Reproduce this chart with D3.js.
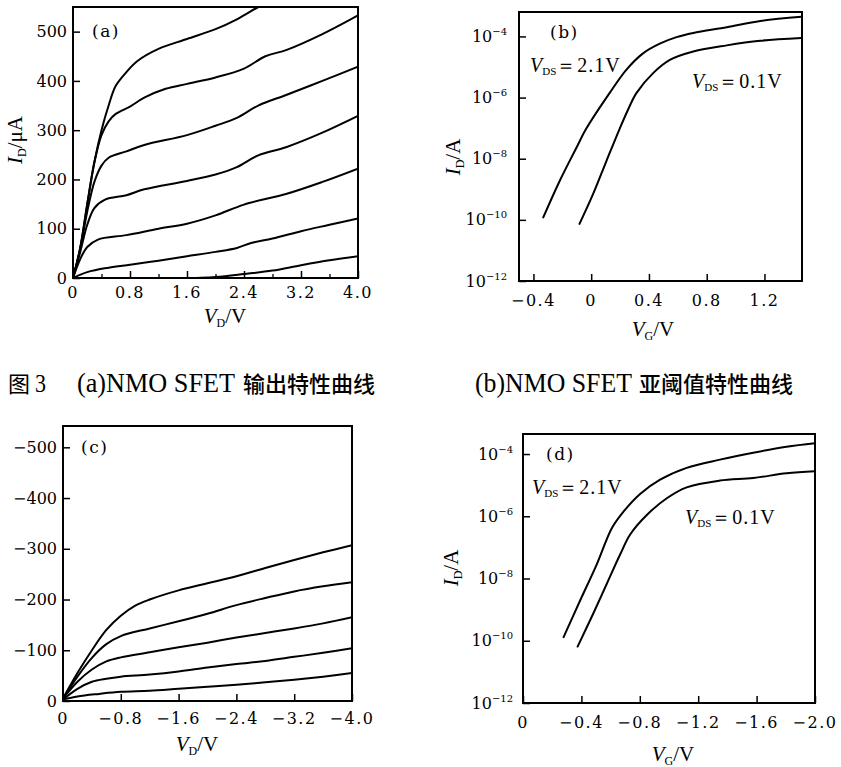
<!DOCTYPE html>
<html><head><meta charset="utf-8">
<script src="https://cdn.jsdelivr.net/npm/d3@7"></script>
<style>body{margin:0;background:#fff}svg{display:block}</style>
</head><body>
<svg id="c" width="841" height="767"></svg>
<script>
// ---------- DATA ----------
// (a) NMOSFET output curves: [V_D (V), I_D (uA)]
const curvesA = [
  [[0,0],[0.1,60],[0.2,150],[0.3,235],[0.4,300],[0.5,350],[0.6,390],[0.75,418],[0.9,440],[1.2,465],[1.6,485],[2.0,505],[2.3,525],[2.6,550],[2.8,565]],
  [[0,0],[0.1,60],[0.2,150],[0.3,235],[0.4,290],[0.5,318],[0.6,333],[0.8,348],[1.0,366],[1.3,384],[1.6,394],[2.0,407],[2.4,425],[2.7,450],[3.0,463],[3.5,495],[4.0,533]],
  [[0,0],[0.1,58],[0.2,135],[0.3,195],[0.4,228],[0.5,244],[0.75,257],[1.0,270],[1.6,290],[2.0,309],[2.3,325],[2.6,350],[3.0,372],[3.5,400],[4.0,429]],
  [[0,0],[0.1,52],[0.2,108],[0.3,142],[0.45,159],[0.75,168],[1.0,180],[1.6,197],[2.0,210],[2.3,225],[2.6,249],[3.0,266],[3.5,295],[4.0,329]],
  [[0,0],[0.1,38],[0.2,63],[0.35,78],[0.75,87],[1.2,100],[1.6,110],[2.0,127],[2.4,149],[3.0,171],[3.5,195],[4.0,222]],
  [[0,0],[0.2,12],[0.5,21],[0.8,27],[1.2,35],[1.6,44],[2.0,53],[2.3,61],[2.5,71],[2.8,80],[3.2,95],[3.6,108],[4.0,121]],
  [[1.5,-1],[2.0,2],[2.4,8],[2.8,15],[3.2,26],[3.6,36],[4.0,44]]
];
const aXTicks = [0, 0.8, 1.6, 2.4, 3.2, 4.0];
const aXMinor = [0.4, 1.2, 2.0, 2.8, 3.6];
const aXLabels = ["0", "0.8", "1.6", "2.4", "3.2", "4.0"];
const aYTicks = [0, 100, 200, 300, 400, 500];
const aYLabels = ["0", "100", "200", "300", "400", "500"];

// (b) NMOSFET subthreshold: [V_G (V), I_D (A)]
const bVds21 = [[-0.332,1.2e-10],[-0.220,1.8e-9],[-0.104,2.2e-8],[-0.035,9.5e-8],[0.127,1.4e-6],[0.243,8.1e-6],[0.359,2.8e-5],[0.475,5.8e-5],[0.591,9.5e-5],[0.707,1.3e-4],[0.939,2.0e-4],[1.171,3.2e-4],[1.455,4.4e-4]];
const bVds01 = [[-0.081,7.4e-11],[0.012,6.8e-10],[0.104,8.1e-9],[0.197,9.5e-8],[0.255,4.0e-7],[0.313,1.4e-6],[0.429,6.3e-6],[0.545,1.7e-5],[0.707,3.2e-5],[0.939,5.1e-5],[1.171,7.2e-5],[1.455,8.9e-5]];
const bXTicks = [-0.4, 0, 0.4, 0.8, 1.2];
const bXLabels = ["\u22120.4", "0", "0.4", "0.8", "1.2"];
const bYTicks = [1e-4, 1e-6, 1e-8, 1e-10, 1e-12];
const bYExp = ["\u22124", "\u22126", "\u22128", "\u221210", "\u221212"];

// (c) PMOSFET output curves: [V_D (V), I_D (uA)]
const curvesC = [
  [[0,-5],[-0.2,-55],[-0.4,-100],[-0.6,-140],[-0.8,-168],[-1.0,-188],[-1.2,-200],[-1.6,-218],[-2.0,-232],[-2.4,-246],[-2.8,-262],[-3.2,-278],[-3.6,-293],[-4.0,-307]],
  [[0,-5],[-0.2,-48],[-0.4,-85],[-0.6,-112],[-0.8,-128],[-1.2,-143],[-1.6,-157],[-2.0,-172],[-2.4,-189],[-2.8,-203],[-3.2,-216],[-3.6,-226],[-4.0,-234]],
  [[0,-5],[-0.2,-38],[-0.4,-62],[-0.6,-78],[-0.8,-86],[-1.2,-96],[-1.6,-106],[-2.0,-115],[-2.4,-125],[-2.8,-134],[-3.2,-143],[-3.6,-153],[-4.0,-165]],
  [[0,-3],[-0.2,-24],[-0.4,-38],[-0.6,-44],[-0.8,-48],[-1.2,-52],[-1.6,-58],[-2.0,-66],[-2.4,-73],[-2.8,-79],[-3.2,-87],[-3.6,-95],[-4.0,-104]],
  [[0,-3],[-0.2,-9],[-0.5,-14],[-0.8,-18],[-1.2,-20],[-1.6,-24],[-2.0,-28],[-2.4,-32],[-2.8,-37],[-3.2,-42],[-3.6,-48],[-4.0,-55]]
];
const cXTicks = [0, -0.8, -1.6, -2.4, -3.2, -4.0];
const cXLabels = ["0", "\u22120.8", "\u22121.6", "\u22122.4", "\u22123.2", "\u22124.0"];
const cYTicks = [0, -100, -200, -300, -400, -500];
const cYLabels = ["0", "\u2212100", "\u2212200", "\u2212300", "\u2212400", "\u2212500"];

// (d) PMOSFET subthreshold: [V_G (V), I_D (A)]
const dVds21 = [[-0.278,1.3e-10],[-0.392,2.0e-9],[-0.506,2.9e-8],[-0.609,4.2e-7],[-0.688,1.4e-6],[-0.802,5.2e-6],[-0.939,1.5e-5],[-1.121,3.6e-5],[-1.349,6.6e-5],[-1.577,1.1e-4],[-1.805,1.7e-4],[-2.0,2.2e-4]];
const dVds01 = [[-0.374,6.5e-11],[-0.483,7.8e-10],[-0.574,6.8e-9],[-0.666,6.0e-8],[-0.734,2.6e-7],[-0.848,1.1e-6],[-0.985,3.8e-6],[-1.121,8.5e-6],[-1.349,1.4e-5],[-1.577,1.7e-5],[-1.805,2.4e-5],[-2.0,2.8e-5]];
const dXTicks = [0, -0.4, -0.8, -1.2, -1.6, -2.0];
const dXLabels = ["0", "\u22120.4", "\u22120.8", "\u22121.2", "\u22121.6", "\u22122.0"];
const dYTicks = [1e-4, 1e-6, 1e-8, 1e-10, 1e-12];
const dYExp = ["\u22124", "\u22126", "\u22128", "\u221210", "\u221212"];

// ---------- DRAWING ----------
const svg = d3.select('#c');
const NUM_FONT = "'DejaVu Serif', serif";
const TXT_FONT = "'Liberation Serif', 'Times New Roman', serif";
const CJK_FONT = "'Noto Sans CJK SC', sans-serif";
let clipId = 0;

function panel(o) {
  const g = svg.append('g');
  const x = d3.scaleLinear().domain(o.xd).range([o.l, o.r]);
  const y = (o.log ? d3.scaleLog() : d3.scaleLinear()).domain(o.yd).range([o.b, o.t]);
  const id = 'clip' + (clipId++);
  g.append('clipPath').attr('id', id).append('rect')
    .attr('x', o.l).attr('y', o.t).attr('width', o.r - o.l).attr('height', o.b - o.t);
  const line = d3.line().x(d => x(d[0])).y(d => y(d[1])).curve(d3.curveCatmullRom.alpha(0.5));
  g.append('g').attr('clip-path', `url(#${id})`).selectAll('path').data(o.curves).join('path')
    .attr('d', line).attr('fill', 'none').attr('stroke', '#000').attr('stroke-width', 2)
    .attr('stroke-linejoin', 'round').attr('stroke-linecap', 'round');

  // tick marks (inward) via d3 axes
  const xa = g.append('g').attr('transform', `translate(0,${o.b})`)
    .call(d3.axisBottom(x).tickValues(o.xt).tickSize(-7).tickFormat(''));
  if (o.xm) {
    const m = g.append('g').attr('transform', `translate(0,${o.b})`)
      .call(d3.axisBottom(x).tickValues(o.xm).tickSize(-4).tickFormat(''));
    m.select('.domain').remove();
    m.selectAll('text').remove();
    m.selectAll('line').attr('stroke-width', 1.3);
  }
  xa.select('.domain').remove();
  xa.selectAll('text').remove();
  xa.selectAll('line').attr('stroke-width', 1.5);

  const ya = g.append('g').attr('transform', `translate(${o.l},0)`)
    .call(d3.axisLeft(y).tickValues(o.yt).tickSize(-7).tickFormat(''));
  ya.select('.domain').remove();
  ya.selectAll('text').remove();
  ya.selectAll('line').attr('stroke-width', 1.5);

  // tick labels, absolutely positioned from the scales
  g.append('g').selectAll('text').data(o.xt).join('text')
    .attr('x', d => x(d)).attr('y', o.b + o.xpad).attr('text-anchor', 'middle')
    .attr('font-family', NUM_FONT).attr('font-size', 16).attr('letter-spacing', 1.5)
    .text((d, i) => o.xl[i]);

  const yl = g.append('g').selectAll('text').data(o.yt).join('text')
    .attr('x', o.l - o.ypad).attr('y', d => y(d)).attr('dy', '0.35em').attr('text-anchor', 'end')
    .attr('font-family', NUM_FONT).attr('font-size', 16);
  if (o.log) {
    yl.each(function (d, i) {
      const t = d3.select(this);
      t.append('tspan').text('10');
      t.append('tspan').attr('font-size', 10).attr('dy', -7).text(o.yl[i]);
    });
  } else {
    yl.text((d, i) => o.yl[i]);
  }

  // frame
  g.append('rect').attr('x', o.l).attr('y', o.t).attr('width', o.r - o.l).attr('height', o.b - o.t)
    .attr('fill', 'none').attr('stroke', '#000').attr('stroke-width', 2);

  // panel tag
  g.append('text').attr('x', o.tag[1]).attr('y', o.tag[2]).attr('font-family', NUM_FONT)
    .attr('font-size', 17).attr('letter-spacing', 1.5).text(o.tag[0]);

  // x title
  const xt = g.append('text').attr('x', o.xtitle[2]).attr('y', o.xtitle[3]).attr('text-anchor', 'middle')
    .attr('font-family', TXT_FONT).attr('font-size', 21);
  xt.append('tspan').attr('font-style', 'italic').text(o.xtitle[0]);
  xt.append('tspan').attr('font-size', 12).attr('dy', 4).text(o.xtitle[1]);
  xt.append('tspan').attr('dy', -4).text('/V');

  if (o.ytitle) {
    const cx = o.ytitle[1], cy = o.ytitle[2];
    const yt = g.append('text').attr('x', cx).attr('y', cy)
      .attr('transform', `rotate(-90,${cx},${cy})`)
      .attr('text-anchor', 'middle').attr('font-family', TXT_FONT).attr('font-size', 21);
    yt.append('tspan').attr('font-style', 'italic').text('I');
    yt.append('tspan').attr('font-size', 12).attr('dy', 4).text('D');
    yt.append('tspan').attr('dy', -4).text(o.ytitle[0]);
  }

  (o.notes || []).forEach(n => {
    const t = g.append('text').attr('x', n[1]).attr('y', n[2]).attr('font-family', TXT_FONT).attr('font-size', 20);
    t.append('tspan').attr('font-style', 'italic').text('V');
    t.append('tspan').attr('font-size', 11).attr('dy', 3).text('DS');
    t.append('tspan').attr('dy', -3).attr('letter-spacing', 1).text(n[0]);
  });
}

panel({
  l: 73, r: 358, t: 7, b: 278, xd: [0, 4], yd: [0, 550], curves: curvesA,
  xt: aXTicks, xl: aXLabels, xm: aXMinor, xpad: 20, yt: aYTicks, yl: aYLabels, ypad: 6,
  tag: ['(a)', 92, 37], xtitle: ['V', 'D', 225, 323], ytitle: ['/\u03bcA', 22, 140]
});
panel({
  l: 519, r: 802, t: 12, b: 281, xd: [-0.5, 1.46], yd: [1e-12, 6.3e-4], log: true,
  curves: [bVds21, bVds01],
  xt: bXTicks, xl: bXLabels, xpad: 25, yt: bYTicks, yl: bYExp, ypad: 12,
  tag: ['(b)', 550, 38], xtitle: ['V', 'G', 653, 336], ytitle: ['/A', 460, 157],
  notes: [['\uff1d2.1V', 530, 72], ['\uff1d0.1V', 692, 88]]
});
panel({
  l: 63, r: 352, t: 426, b: 701, xd: [0, -4], yd: [0, -542], curves: curvesC,
  xt: cXTicks, xl: cXLabels, xpad: 23, yt: cYTicks, yl: cYLabels, ypad: 6,
  tag: ['(c)', 81, 453], xtitle: ['V', 'D', 197, 751]
});
panel({
  l: 523, r: 815, t: 434, b: 703, xd: [0, -2], yd: [1e-12, 4.4e-4], log: true,
  curves: [dVds21, dVds01],
  xt: dXTicks, xl: dXLabels, xpad: 25, yt: dYTicks, yl: dYExp, ypad: 10,
  tag: ['(d)', 546, 460], xtitle: ['V', 'G', 673, 761], ytitle: ['/A', 458, 568],
  notes: [['\uff1d2.1V', 532, 494], ['\uff1d0.1V', 685, 524]]
});

// caption
const cap = svg.append('g');
cap.append('text').attr('x', 8).attr('y', 392).attr('font-size', 22).attr('font-family', CJK_FONT).text('图');
cap.append('text').attr('x', 35).attr('y', 392).attr('font-size', 26).attr('font-family', TXT_FONT)
  .attr('textLength', 11).attr('lengthAdjust', 'spacingAndGlyphs').text('3');
cap.append('text').attr('x', 77).attr('y', 392).attr('font-size', 27).attr('font-family', TXT_FONT)
  .attr('textLength', 158).attr('lengthAdjust', 'spacingAndGlyphs').text('(a)NMO SFET');
cap.append('text').attr('x', 243).attr('y', 392).attr('font-size', 22).attr('font-weight', 500)
  .attr('font-family', CJK_FONT).text('输出特性曲线');
cap.append('text').attr('x', 475).attr('y', 392).attr('font-size', 27).attr('font-family', TXT_FONT)
  .attr('textLength', 157).attr('lengthAdjust', 'spacingAndGlyphs').text('(b)NMO SFET');
cap.append('text').attr('x', 639).attr('y', 392).attr('font-size', 22).attr('font-weight', 500)
  .attr('font-family', CJK_FONT).text('亚阈值特性曲线');
</script>
</body></html>
